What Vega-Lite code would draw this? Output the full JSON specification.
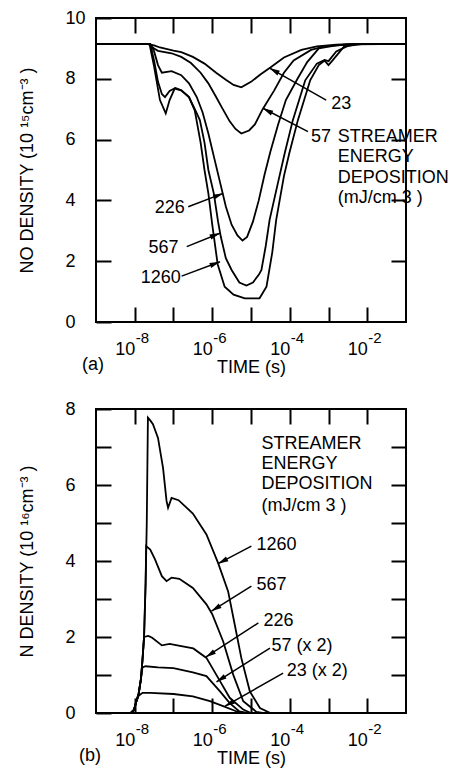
{
  "$schema": "https://vega.github.io/schema/vega-lite/v6.json",
  "background": "white",
  "padding": {"left": 17, "top": 8, "right": 0, "bottom": 0},
  "datasets": {
    "noCurves": [
      {"E": 23, "t": 1e-9, "v": 9.15}, {"E": 23, "t": 2.0e-8, "v": 9.15}, {"E": 23, "t": 3.16e-8, "v": 9.1}, {"E": 23, "t": 4.47e-8, "v": 9.03},
      {"E": 23, "t": 1e-7, "v": 8.93}, {"E": 23, "t": 1.585e-7, "v": 8.88}, {"E": 23, "t": 3.16e-7, "v": 8.72}, {"E": 23, "t": 6.31e-7, "v": 8.5},
      {"E": 23, "t": 1.259e-6, "v": 8.2}, {"E": 23, "t": 2.24e-6, "v": 7.97}, {"E": 23, "t": 3.55e-6, "v": 7.8}, {"E": 23, "t": 5.62e-6, "v": 7.72},
      {"E": 23, "t": 1e-5, "v": 7.9}, {"E": 23, "t": 1.78e-5, "v": 8.15}, {"E": 23, "t": 3.16e-5, "v": 8.37}, {"E": 23, "t": 7.08e-5, "v": 8.7},
      {"E": 23, "t": 2.0e-4, "v": 8.95}, {"E": 23, "t": 5.0e-4, "v": 9.07}, {"E": 23, "t": 1.585e-3, "v": 9.12}, {"E": 23, "t": 5.0e-3, "v": 9.15},
      {"E": 23, "t": 0.1, "v": 9.15},

      {"E": 57, "t": 1e-9, "v": 9.15}, {"E": 57, "t": 2.24e-8, "v": 9.15}, {"E": 57, "t": 3.16e-8, "v": 9.0}, {"E": 57, "t": 3.98e-8, "v": 8.92},
      {"E": 57, "t": 8.91e-8, "v": 8.84}, {"E": 57, "t": 1.585e-7, "v": 8.72}, {"E": 57, "t": 2.82e-7, "v": 8.52}, {"E": 57, "t": 5.01e-7, "v": 8.2},
      {"E": 57, "t": 7.94e-7, "v": 7.85}, {"E": 57, "t": 1.259e-6, "v": 7.4}, {"E": 57, "t": 1.78e-6, "v": 7.05}, {"E": 57, "t": 2.82e-6, "v": 6.6},
      {"E": 57, "t": 3.98e-6, "v": 6.35}, {"E": 57, "t": 5.62e-6, "v": 6.2}, {"E": 57, "t": 8.91e-6, "v": 6.3}, {"E": 57, "t": 1.259e-5, "v": 6.5},
      {"E": 57, "t": 2.0e-5, "v": 7.0}, {"E": 57, "t": 3.98e-5, "v": 7.62}, {"E": 57, "t": 7.08e-5, "v": 8.2}, {"E": 57, "t": 1.259e-4, "v": 8.6},
      {"E": 57, "t": 3.55e-4, "v": 8.95}, {"E": 57, "t": 7.94e-4, "v": 9.07}, {"E": 57, "t": 2.51e-3, "v": 9.12}, {"E": 57, "t": 6.31e-3, "v": 9.15},
      {"E": 57, "t": 0.1, "v": 9.15},

      {"E": 226, "t": 1e-9, "v": 9.15}, {"E": 226, "t": 2.51e-8, "v": 9.15}, {"E": 226, "t": 3.16e-8, "v": 8.9}, {"E": 226, "t": 3.98e-8, "v": 8.45},
      {"E": 226, "t": 5.01e-8, "v": 8.2}, {"E": 226, "t": 8.91e-8, "v": 8.25}, {"E": 226, "t": 1.585e-7, "v": 8.12}, {"E": 226, "t": 2.51e-7, "v": 7.85},
      {"E": 226, "t": 3.98e-7, "v": 7.4}, {"E": 226, "t": 5.62e-7, "v": 6.9}, {"E": 226, "t": 7.94e-7, "v": 6.2}, {"E": 226, "t": 1.122e-6, "v": 5.4},
      {"E": 226, "t": 1.585e-6, "v": 4.6}, {"E": 226, "t": 2.24e-6, "v": 3.8}, {"E": 226, "t": 3.16e-6, "v": 3.2}, {"E": 226, "t": 4.47e-6, "v": 2.85},
      {"E": 226, "t": 6.03e-6, "v": 2.68}, {"E": 226, "t": 7.94e-6, "v": 2.8}, {"E": 226, "t": 1.122e-5, "v": 3.3}, {"E": 226, "t": 1.585e-5, "v": 4.0},
      {"E": 226, "t": 2.24e-5, "v": 4.85}, {"E": 226, "t": 3.16e-5, "v": 5.6}, {"E": 226, "t": 5.01e-5, "v": 6.5}, {"E": 226, "t": 7.94e-5, "v": 7.3},
      {"E": 226, "t": 1.585e-4, "v": 8.0}, {"E": 226, "t": 2.82e-4, "v": 8.55}, {"E": 226, "t": 5.62e-4, "v": 9.0}, {"E": 226, "t": 1.585e-3, "v": 9.1},
      {"E": 226, "t": 5.01e-3, "v": 9.15}, {"E": 226, "t": 0.1, "v": 9.15},

      {"E": 567, "t": 1e-9, "v": 9.15}, {"E": 567, "t": 2.51e-8, "v": 9.15}, {"E": 567, "t": 3.16e-8, "v": 8.6}, {"E": 567, "t": 3.98e-8, "v": 7.9},
      {"E": 567, "t": 5.01e-8, "v": 7.5}, {"E": 567, "t": 6.03e-8, "v": 7.4}, {"E": 567, "t": 7.94e-8, "v": 7.6}, {"E": 567, "t": 1.122e-7, "v": 7.7},
      {"E": 567, "t": 1.585e-7, "v": 7.62}, {"E": 567, "t": 2.51e-7, "v": 7.4}, {"E": 567, "t": 3.55e-7, "v": 7.0}, {"E": 567, "t": 4.79e-7, "v": 6.64},
      {"E": 567, "t": 6.31e-7, "v": 5.9}, {"E": 567, "t": 7.94e-7, "v": 5.0}, {"E": 567, "t": 1.096e-6, "v": 4.23}, {"E": 567, "t": 1.413e-6, "v": 3.3},
      {"E": 567, "t": 1.66e-6, "v": 2.81}, {"E": 567, "t": 2.24e-6, "v": 2.1}, {"E": 567, "t": 3.16e-6, "v": 1.71}, {"E": 567, "t": 5.01e-6, "v": 1.3},
      {"E": 567, "t": 7.59e-6, "v": 1.2}, {"E": 567, "t": 1.122e-5, "v": 1.3}, {"E": 567, "t": 1.585e-5, "v": 1.55}, {"E": 567, "t": 1.86e-5, "v": 1.71},
      {"E": 567, "t": 2.4e-5, "v": 2.5}, {"E": 567, "t": 3.02e-5, "v": 3.36}, {"E": 567, "t": 5.01e-5, "v": 4.6}, {"E": 567, "t": 7.41e-5, "v": 5.55},
      {"E": 567, "t": 1.202e-4, "v": 6.64}, {"E": 567, "t": 2.51e-4, "v": 7.95}, {"E": 567, "t": 5.01e-4, "v": 8.5}, {"E": 567, "t": 7.94e-4, "v": 8.62},
      {"E": 567, "t": 1e-3, "v": 8.58}, {"E": 567, "t": 1.585e-3, "v": 8.9}, {"E": 567, "t": 3.16e-3, "v": 9.08}, {"E": 567, "t": 7.94e-3, "v": 9.15},
      {"E": 567, "t": 0.1, "v": 9.15},

      {"E": 1260, "t": 1e-9, "v": 9.15}, {"E": 1260, "t": 2.4e-8, "v": 9.15}, {"E": 1260, "t": 3.16e-8, "v": 8.4}, {"E": 1260, "t": 4.47e-8, "v": 7.3},
      {"E": 1260, "t": 6.31e-8, "v": 6.86}, {"E": 1260, "t": 7.94e-8, "v": 7.3}, {"E": 1260, "t": 1.072e-7, "v": 7.68}, {"E": 1260, "t": 1.585e-7, "v": 7.62},
      {"E": 1260, "t": 2.51e-7, "v": 7.4}, {"E": 1260, "t": 3.55e-7, "v": 6.95}, {"E": 1260, "t": 5.01e-7, "v": 5.9}, {"E": 1260, "t": 6.31e-7, "v": 5.0},
      {"E": 1260, "t": 7.94e-7, "v": 4.23}, {"E": 1260, "t": 1e-6, "v": 3.2}, {"E": 1260, "t": 1.38e-6, "v": 1.9}, {"E": 1260, "t": 2.09e-6, "v": 1.16},
      {"E": 1260, "t": 3.55e-6, "v": 0.9}, {"E": 1260, "t": 6.92e-6, "v": 0.78}, {"E": 1260, "t": 1.66e-5, "v": 0.78}, {"E": 1260, "t": 2.51e-5, "v": 1.16},
      {"E": 1260, "t": 3.55e-5, "v": 2.3}, {"E": 1260, "t": 4.47e-5, "v": 3.36}, {"E": 1260, "t": 7.08e-5, "v": 4.8}, {"E": 1260, "t": 9.77e-5, "v": 5.56},
      {"E": 1260, "t": 1.622e-4, "v": 6.64}, {"E": 1260, "t": 3.39e-4, "v": 7.96}, {"E": 1260, "t": 5.62e-4, "v": 8.45}, {"E": 1260, "t": 7.94e-4, "v": 8.6},
      {"E": 1260, "t": 1e-3, "v": 8.45}, {"E": 1260, "t": 1.259e-3, "v": 8.6}, {"E": 1260, "t": 2.51e-3, "v": 9.06}, {"E": 1260, "t": 5.01e-3, "v": 9.13},
      {"E": 1260, "t": 0.1, "v": 9.15}
    ],
    "nCurves": [
      {"E": 23, "t": 1e-9, "v": 0}, {"E": 23, "t": 7.94e-9, "v": 0}, {"E": 23, "t": 9.55e-9, "v": 0.08}, {"E": 23, "t": 1.096e-8, "v": 0.3},
      {"E": 23, "t": 1.259e-8, "v": 0.45}, {"E": 23, "t": 1.585e-8, "v": 0.53}, {"E": 23, "t": 2.51e-8, "v": 0.53}, {"E": 23, "t": 1e-7, "v": 0.5},
      {"E": 23, "t": 3.16e-7, "v": 0.44}, {"E": 23, "t": 8.71e-7, "v": 0.31}, {"E": 23, "t": 1.905e-6, "v": 0.18}, {"E": 23, "t": 4.27e-6, "v": 0.04},
      {"E": 23, "t": 6.31e-6, "v": 0}, {"E": 23, "t": 0.1, "v": 0},

      {"E": 57, "t": 1e-9, "v": 0}, {"E": 57, "t": 7.94e-9, "v": 0}, {"E": 57, "t": 9.55e-9, "v": 0.08}, {"E": 57, "t": 1.096e-8, "v": 0.3},
      {"E": 57, "t": 1.259e-8, "v": 0.5}, {"E": 57, "t": 1.445e-8, "v": 0.9}, {"E": 57, "t": 1.585e-8, "v": 1.2}, {"E": 57, "t": 1.905e-8, "v": 1.23},
      {"E": 57, "t": 3.98e-8, "v": 1.2}, {"E": 57, "t": 1e-7, "v": 1.18}, {"E": 57, "t": 3.16e-7, "v": 1.07}, {"E": 57, "t": 7.08e-7, "v": 0.97},
      {"E": 57, "t": 1.585e-6, "v": 0.57}, {"E": 57, "t": 2.82e-6, "v": 0.26}, {"E": 57, "t": 5.01e-6, "v": 0.04}, {"E": 57, "t": 7.94e-6, "v": 0},
      {"E": 57, "t": 0.1, "v": 0},

      {"E": 226, "t": 1e-9, "v": 0}, {"E": 226, "t": 7.94e-9, "v": 0}, {"E": 226, "t": 9.55e-9, "v": 0.08}, {"E": 226, "t": 1.096e-8, "v": 0.3},
      {"E": 226, "t": 1.259e-8, "v": 0.5}, {"E": 226, "t": 1.445e-8, "v": 0.9}, {"E": 226, "t": 1.585e-8, "v": 1.4}, {"E": 226, "t": 1.738e-8, "v": 2.0},
      {"E": 226, "t": 2.24e-8, "v": 2.03}, {"E": 226, "t": 2.82e-8, "v": 1.98}, {"E": 226, "t": 5.01e-8, "v": 1.78}, {"E": 226, "t": 7.94e-8, "v": 1.82},
      {"E": 226, "t": 1.585e-7, "v": 1.76}, {"E": 226, "t": 3.24e-7, "v": 1.7}, {"E": 226, "t": 7.08e-7, "v": 1.45}, {"E": 226, "t": 1.585e-6, "v": 0.84},
      {"E": 226, "t": 2.82e-6, "v": 0.4}, {"E": 226, "t": 6.31e-6, "v": 0.09}, {"E": 226, "t": 1e-5, "v": 0}, {"E": 226, "t": 0.1, "v": 0},

      {"E": 567, "t": 1e-9, "v": 0}, {"E": 567, "t": 7.94e-9, "v": 0}, {"E": 567, "t": 9.55e-9, "v": 0.08}, {"E": 567, "t": 1.096e-8, "v": 0.3},
      {"E": 567, "t": 1.259e-8, "v": 0.5}, {"E": 567, "t": 1.445e-8, "v": 0.9}, {"E": 567, "t": 1.585e-8, "v": 1.4}, {"E": 567, "t": 1.738e-8, "v": 2.0},
      {"E": 567, "t": 1.905e-8, "v": 3.4}, {"E": 567, "t": 1.972e-8, "v": 4.39}, {"E": 567, "t": 2.51e-8, "v": 4.3}, {"E": 567, "t": 3.31e-8, "v": 4.05},
      {"E": 567, "t": 5.01e-8, "v": 3.6}, {"E": 567, "t": 6.61e-8, "v": 3.47}, {"E": 567, "t": 8.91e-8, "v": 3.56}, {"E": 567, "t": 1.413e-7, "v": 3.53},
      {"E": 567, "t": 3.16e-7, "v": 3.29}, {"E": 567, "t": 7.08e-7, "v": 2.86}, {"E": 567, "t": 1e-6, "v": 2.6}, {"E": 567, "t": 1.905e-6, "v": 1.89},
      {"E": 567, "t": 3.47e-6, "v": 1.01}, {"E": 567, "t": 6.31e-6, "v": 0.31}, {"E": 567, "t": 1.38e-5, "v": 0.03}, {"E": 567, "t": 2.0e-5, "v": 0},
      {"E": 567, "t": 0.1, "v": 0},

      {"E": 1260, "t": 1e-9, "v": 0}, {"E": 1260, "t": 7.94e-9, "v": 0}, {"E": 1260, "t": 9.55e-9, "v": 0.08}, {"E": 1260, "t": 1.096e-8, "v": 0.3},
      {"E": 1260, "t": 1.259e-8, "v": 0.5}, {"E": 1260, "t": 1.445e-8, "v": 0.9}, {"E": 1260, "t": 1.585e-8, "v": 1.4}, {"E": 1260, "t": 1.738e-8, "v": 2.0},
      {"E": 1260, "t": 1.905e-8, "v": 3.4}, {"E": 1260, "t": 2.042e-8, "v": 5.0}, {"E": 1260, "t": 2.188e-8, "v": 7.77}, {"E": 1260, "t": 2.51e-8, "v": 7.7},
      {"E": 1260, "t": 2.95e-8, "v": 7.6}, {"E": 1260, "t": 3.98e-8, "v": 7.24}, {"E": 1260, "t": 5.37e-8, "v": 6.45}, {"E": 1260, "t": 6.61e-8, "v": 5.58},
      {"E": 1260, "t": 7.24e-8, "v": 5.4}, {"E": 1260, "t": 8.91e-8, "v": 5.66}, {"E": 1260, "t": 1.349e-7, "v": 5.6}, {"E": 1260, "t": 3.16e-7, "v": 5.25},
      {"E": 1260, "t": 7.08e-7, "v": 4.7}, {"E": 1260, "t": 1.413e-6, "v": 3.95}, {"E": 1260, "t": 2.57e-6, "v": 3.2}, {"E": 1260, "t": 3.8e-6, "v": 2.33},
      {"E": 1260, "t": 5.62e-6, "v": 1.45}, {"E": 1260, "t": 9.33e-6, "v": 0.57}, {"E": 1260, "t": 1.698e-5, "v": 0.13}, {"E": 1260, "t": 3.16e-5, "v": 0},
      {"E": 1260, "t": 0.1, "v": 0}
    ],
    "decadeExponents": [
      {"t": 1e-8, "exp": "-8"},
      {"t": 1e-6, "exp": "-6"},
      {"t": 1e-4, "exp": "-4"},
      {"t": 1e-2, "exp": "-2"}
    ],
    "noLabelsLeft": [
      {"t": 1.175e-3, "v": 7.17, "label": "23"},
      {"t": 3.55e-4, "v": 6.09, "label": "57"},
      {"t": 1.74e-3, "v": 6.09, "label": "STREAMER"},
      {"t": 1.74e-3, "v": 5.43, "label": "ENERGY"},
      {"t": 1.74e-3, "v": 4.74, "label": "DEPOSITION"},
      {"t": 1.74e-3, "v": 4.08, "label": "(mJ/cm 3   )"}
    ],
    "noLabelsRight": [
      {"t": 1.95e-7, "v": 3.75, "label": "226"},
      {"t": 1.349e-7, "v": 2.43, "label": "567"},
      {"t": 1.549e-7, "v": 1.45, "label": "1260"}
    ],
    "noArrows": [
      {"t": 8.71e-4, "v": 7.30, "t2": 3.02e-5, "v2": 8.35, "ht": 3.93e-5, "hv": 8.27, "angle": 299},
      {"t": 2.95e-4, "v": 6.26, "t2": 2.04e-5, "v2": 7.03, "ht": 2.655e-5, "hv": 6.95, "angle": 297.5},
      {"t": 2.4e-7, "v": 3.79, "t2": 1.905e-6, "v2": 4.23, "ht": 1.452e-6, "hv": 4.17, "angle": 69},
      {"t": 2.19e-7, "v": 2.48, "t2": 1.585e-6, "v2": 2.92, "ht": 1.194e-6, "hv": 2.86, "angle": 68},
      {"t": 1.622e-7, "v": 1.51, "t2": 1.585e-6, "v2": 1.98, "ht": 1.189e-6, "hv": 1.92, "angle": 69.5}
    ],
    "nLabels": [
      {"t": 1.86e-5, "v": 7.07, "label": "STREAMER"},
      {"t": 1.86e-5, "v": 6.56, "label": "ENERGY"},
      {"t": 1.86e-5, "v": 6.02, "label": "DEPOSITION"},
      {"t": 1.86e-5, "v": 5.45, "label": "(mJ/cm 3   )"},
      {"t": 1.38e-5, "v": 4.42, "label": "1260"},
      {"t": 1.38e-5, "v": 3.38, "label": "567"},
      {"t": 2.09e-5, "v": 2.42, "label": "226"},
      {"t": 3.39e-5, "v": 1.76, "label": "57 (x 2)"},
      {"t": 8.32e-5, "v": 1.1, "label": "23 (x 2)"}
    ],
    "nArrows": [
      {"t": 1.023e-5, "v": 4.39, "t2": 1.413e-6, "v2": 3.93, "ht": 1.845e-6, "hv": 3.99, "angle": 242},
      {"t": 1.023e-5, "v": 3.34, "t2": 9.55e-7, "v2": 2.68, "ht": 1.225e-6, "hv": 2.75, "angle": 238},
      {"t": 1.549e-5, "v": 2.37, "t2": 6.76e-7, "v2": 1.47, "ht": 8.77e-7, "hv": 1.54, "angle": 236.7},
      {"t": 3.09e-5, "v": 1.71, "t2": 1.288e-6, "v2": 0.82, "ht": 1.648e-6, "hv": 0.89, "angle": 237.5},
      {"t": 6.76e-5, "v": 1.05, "t2": 2.138e-6, "v2": 0.18, "ht": 2.735e-6, "hv": 0.24, "angle": 240.3}
    ]
  },
  "vconcat": [
    {
      "width": 310,
      "height": 304,
      "title": {"text": "(a)", "orient": "bottom", "anchor": "start", "frame": "group", "offset": -20, "dx": -14, "fontSize": 18, "fontWeight": "normal", "font": "Liberation Sans"},
      "resolve": {"axis": {"x": "independent", "y": "independent"}},
      "layer": [
        {
          "data": {"name": "noCurves"},
          "mark": {"type": "line", "color": "black", "strokeWidth": 1.8},
          "encoding": {
            "x": {"field": "t", "type": "quantitative", "scale": {"type": "log", "domain": [1e-9, 0.1], "nice": false},
                  "axis": {"orient": "bottom", "title": "TIME (s)", "values": [1e-8, 1e-7, 1e-6, 1e-5, 1e-4, 1e-3, 1e-2],
                           "labelExpr": "datum.value == 1e-8 || datum.value == 1e-6 || datum.value == 1e-4 || datum.value == 1e-2 ? '10' : ''"}},
            "y": {"field": "v", "type": "quantitative", "scale": {"domain": [0, 10], "nice": false},
                  "axis": {"orient": "left", "title": "NO DENSITY (10 ¹⁵cm⁻³ )", "values": [0, 2, 4, 6, 8, 10]}},
            "detail": {"field": "E", "type": "nominal"}
          }
        },
        {
          "data": {"name": "noCurves"},
          "mark": {"type": "line", "opacity": 0},
          "encoding": {
            "x": {"field": "t", "type": "quantitative", "scale": {"type": "log", "domain": [1e-9, 0.1], "nice": false},
                  "axis": {"orient": "top", "title": null, "labels": false, "values": [1e-8, 1e-7, 1e-6, 1e-5, 1e-4, 1e-3, 1e-2]}},
            "y": {"field": "v", "type": "quantitative", "scale": {"domain": [0, 10], "nice": false},
                  "axis": {"orient": "right", "title": null, "labels": false, "values": [2, 4, 6, 8]}},
            "detail": {"field": "E", "type": "nominal"}
          }
        },
        {
          "data": {"name": "decadeExponents"},
          "mark": {"type": "text", "align": "left", "baseline": "alphabetic", "dx": 1, "dy": 21, "fontSize": 15, "font": "Liberation Sans", "color": "black"},
          "encoding": {
            "x": {"field": "t", "type": "quantitative", "axis": null},
            "y": {"datum": 0, "type": "quantitative", "axis": null},
            "text": {"field": "exp"}
          }
        },
        {
          "data": {"name": "noArrows"},
          "mark": {"type": "rule", "color": "black", "strokeWidth": 1.5},
          "encoding": {
            "x": {"field": "t", "type": "quantitative", "axis": null},
            "x2": {"field": "t2"},
            "y": {"field": "v", "type": "quantitative", "axis": null},
            "y2": {"field": "v2"}
          }
        },
        {
          "data": {"name": "noArrows"},
          "mark": {"type": "point", "shape": "M0,-1L0.5,1L-0.5,1Z", "filled": true, "color": "black", "opacity": 1, "size": 110},
          "encoding": {
            "x": {"field": "ht", "type": "quantitative", "axis": null},
            "y": {"field": "hv", "type": "quantitative", "axis": null},
            "angle": {"field": "angle", "type": "quantitative", "scale": null}
          }
        },
        {
          "data": {"name": "noLabelsLeft"},
          "mark": {"type": "text", "align": "left", "baseline": "middle", "fontSize": 18, "font": "Liberation Sans", "color": "black"},
          "encoding": {
            "x": {"field": "t", "type": "quantitative", "axis": null},
            "y": {"field": "v", "type": "quantitative", "axis": null},
            "text": {"field": "label"}
          }
        },
        {
          "data": {"name": "noLabelsRight"},
          "mark": {"type": "text", "align": "right", "baseline": "middle", "fontSize": 18, "font": "Liberation Sans", "color": "black"},
          "encoding": {
            "x": {"field": "t", "type": "quantitative", "axis": null},
            "y": {"field": "v", "type": "quantitative", "axis": null},
            "text": {"field": "label"}
          }
        }
      ]
    },
    {
      "width": 310,
      "height": 304,
      "title": {"text": "(b)", "orient": "bottom", "anchor": "start", "frame": "group", "offset": -20, "dx": -17, "fontSize": 18, "fontWeight": "normal", "font": "Liberation Sans"},
      "resolve": {"axis": {"x": "independent", "y": "independent"}},
      "layer": [
        {
          "data": {"name": "nCurves"},
          "mark": {"type": "line", "color": "black", "strokeWidth": 1.8},
          "encoding": {
            "x": {"field": "t", "type": "quantitative", "scale": {"type": "log", "domain": [1e-9, 0.1], "nice": false},
                  "axis": {"orient": "bottom", "title": "TIME (s)", "values": [1e-8, 1e-7, 1e-6, 1e-5, 1e-4, 1e-3, 1e-2],
                           "labelExpr": "datum.value == 1e-8 || datum.value == 1e-6 || datum.value == 1e-4 || datum.value == 1e-2 ? '10' : ''"}},
            "y": {"field": "v", "type": "quantitative", "scale": {"domain": [0, 8], "nice": false},
                  "axis": {"orient": "left", "title": "N DENSITY (10 ¹⁶cm⁻³ )", "values": [0, 1, 2, 3, 4, 5, 6, 7, 8],
                           "labelExpr": "datum.value % 2 === 0 ? datum.label : ''"}},
            "detail": {"field": "E", "type": "nominal"}
          }
        },
        {
          "data": {"name": "nCurves"},
          "mark": {"type": "line", "opacity": 0},
          "encoding": {
            "x": {"field": "t", "type": "quantitative", "scale": {"type": "log", "domain": [1e-9, 0.1], "nice": false},
                  "axis": {"orient": "top", "title": null, "labels": false, "values": [1e-8, 1e-7, 1e-6, 1e-5, 1e-4, 1e-3, 1e-2]}},
            "y": {"field": "v", "type": "quantitative", "scale": {"domain": [0, 8], "nice": false},
                  "axis": {"orient": "right", "title": null, "labels": false, "values": [1, 2, 3, 4, 5, 6, 7]}},
            "detail": {"field": "E", "type": "nominal"}
          }
        },
        {
          "data": {"name": "decadeExponents"},
          "mark": {"type": "text", "align": "left", "baseline": "alphabetic", "dx": 1, "dy": 21, "fontSize": 15, "font": "Liberation Sans", "color": "black"},
          "encoding": {
            "x": {"field": "t", "type": "quantitative", "axis": null},
            "y": {"datum": 0, "type": "quantitative", "axis": null},
            "text": {"field": "exp"}
          }
        },
        {
          "data": {"name": "nArrows"},
          "mark": {"type": "rule", "color": "black", "strokeWidth": 1.5},
          "encoding": {
            "x": {"field": "t", "type": "quantitative", "axis": null},
            "x2": {"field": "t2"},
            "y": {"field": "v", "type": "quantitative", "axis": null},
            "y2": {"field": "v2"}
          }
        },
        {
          "data": {"name": "nArrows"},
          "mark": {"type": "point", "shape": "M0,-1L0.5,1L-0.5,1Z", "filled": true, "color": "black", "opacity": 1, "size": 110},
          "encoding": {
            "x": {"field": "ht", "type": "quantitative", "axis": null},
            "y": {"field": "hv", "type": "quantitative", "axis": null},
            "angle": {"field": "angle", "type": "quantitative", "scale": null}
          }
        },
        {
          "data": {"name": "nLabels"},
          "mark": {"type": "text", "align": "left", "baseline": "middle", "fontSize": 18, "font": "Liberation Sans", "color": "black"},
          "encoding": {
            "x": {"field": "t", "type": "quantitative", "axis": null},
            "y": {"field": "v", "type": "quantitative", "axis": null},
            "text": {"field": "label"}
          }
        }
      ]
    }
  ],
  "config": {
    "view": {"stroke": "black", "strokeWidth": 2},
    "concat": {"spacing": 22},
    "axis": {
      "domain": false,
      "grid": false,
      "ticks": true,
      "tickColor": "black",
      "tickWidth": 2,
      "tickSize": -15,
      "labelFont": "Liberation Sans",
      "labelFontSize": 18,
      "labelColor": "black",
      "labelOverlap": false,
      "titleFont": "Liberation Sans",
      "titleFontSize": 18,
      "titleFontWeight": "normal",
      "titleColor": "black"
    },
    "axisLeft": {"labelAlign": "left", "labelPadding": 46, "titlePadding": 29},
    "axisBottom": {"labelAlign": "right", "labelDx": 2, "labelPadding": 33, "titlePadding": 0}
  }
}
